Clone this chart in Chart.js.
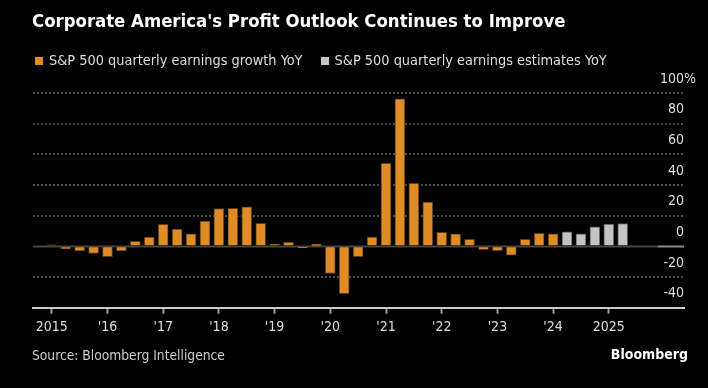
<!DOCTYPE html>
<html lang="en">
<head>
    <meta charset="UTF-8">
    <title>Corporate America's Profit Outlook</title>
    <style>
        body { margin: 0; background: #000; }
        #wrap { position: relative; width: 708px; height: 388px; overflow: hidden; font-family: "Liberation Sans Narrow", "DejaVu Sans Condensed", sans-serif; }
        #wrap canvas { position: absolute; left: 0; top: 0; }
        .title { position: absolute; left: 32px; top: 10px; color: #fff; font-weight: bold; font-size: 18.4px; white-space: nowrap; }
        .legend { position: absolute; left: 35px; top: 52px; color: #ddd; font-size: 14.4px; white-space: nowrap; }
        .legend .box { display: inline-block; width: 8px; height: 8px; margin-right: 6px; }
        .legend .item { margin-right: 14px; }
        .source { position: absolute; left: 32px; top: 347px; color: #ccc; font-size: 13.7px; }
        .brand { position: absolute; right: 20px; top: 346px; color: #fff; font-weight: bold; font-size: 14px; }
    </style>
</head>
<body>
<div id="wrap">
    <canvas id="myChart" width="708" height="388"></canvas>
    <div class="title">Corporate America's Profit Outlook Continues to Improve</div>
    <div class="legend">
        <span class="item"><span class="box" style="background:#e08c26"></span>S&amp;P 500 quarterly earnings growth YoY</span>
        <span class="item"><span class="box" style="background:#c4c4c4"></span>S&amp;P 500 quarterly earnings estimates YoY</span>
    </div>
    <div class="source">Source: Bloomberg Intelligence</div>
    <div class="brand">Bloomberg</div>
</div>

<script src="https://cdn.jsdelivr.net/npm/chart.js@4.4.0/dist/chart.umd.min.js"></script>
<script>

    // quarters 1Q2015 .. 2Q2025
    var quarters = [];
    for (var yr = 2015; yr <= 2025; yr++) {
        for (var q = 1; q <= 4; q++) quarters.push(q + 'Q' + yr);
    }
    quarters = quarters.slice(0, 42);

    // actual growth, 1Q2015 .. 1Q2024
    var growth = [1, -1.7, -3.0, -4.6, -6.7, -3.0, 3.3, 6.1,
        14.4, 11.3, 8.1, 16.5, 24.6, 24.8, 25.7, 15.0,
        1.3, 2.6, -0.9, 1.5, -17.6, -30.9, -6.7, 6.1,
        54.2, 96.2, 41.1, 28.9, 9.1, 8.1, 4.6, -2.2,
        -2.8, -5.7, 4.6, 8.5, 8.1];

    // estimates, 2Q2024 .. 3Q2025
    var estimates = [9.4, 8.1, 12.8, 14.6, 14.8];

    var yearLabels = ['2015', "'16", "'17", "'18", "'19", "'20", "'21", "'22", "'23", "'24", '2025'];
    var yTicks = [-40, -20, 0, 20, 40, 60, 80, 100];

    var growthPoints = growth.map(function (v, i) { return { x: i, y: v }; });
    var estPoints = estimates.map(function (v, i) { return { x: growth.length + i, y: v }; });

    var axisFont = { family: "'Liberation Sans Narrow', 'DejaVu Sans Condensed', sans-serif", size: 14 };

    // solid zero line, lighter past the data
    var zeroLine = {
        id: 'zeroLine',
        beforeDatasetsDraw: function (chart) {
            var ctx = chart.ctx, area = chart.chartArea;
            var y = Math.round(chart.scales.y.getPixelForValue(0)) + 0.5;
            var xSplit = chart.scales.x.getPixelForValue(quarters.length + 1.5);
            ctx.save();
            ctx.lineWidth = 2;
            ctx.strokeStyle = '#444';
            ctx.beginPath(); ctx.moveTo(area.left, y); ctx.lineTo(xSplit, y); ctx.stroke();
            ctx.strokeStyle = '#8a8a8a';
            ctx.beginPath(); ctx.moveTo(xSplit, y); ctx.lineTo(area.right, y); ctx.stroke();
            ctx.restore();
        },
        afterDraw: function (chart) {
            // hanging % sign on the top label
            var ctx = chart.ctx, s = chart.scales.y;
            ctx.save();
            ctx.font = axisFont.size + 'px ' + axisFont.family;
            ctx.fillStyle = '#ddd';
            ctx.textAlign = 'left';
            ctx.textBaseline = 'middle';
            ctx.fillText('%', chart.chartArea.right, s.getPixelForValue(100) - 14);
            ctx.restore();
        }
    };

    var ctx = document.getElementById('myChart').getContext('2d');
    var myChart = new Chart(ctx, {
        type: 'bar',
        data: {
            datasets: [
                {
                    label: 'S&P 500 quarterly earnings growth YoY',
                    data: growthPoints,
                    backgroundColor: '#e08c26',
                    borderColor: '#5e3b0f',
                    borderWidth: 1,
                    barThickness: 10,
                    grouped: false
                },
                {
                    label: 'S&P 500 quarterly earnings estimates YoY',
                    data: estPoints,
                    backgroundColor: '#c4c4c4',
                    borderColor: '#555',
                    borderWidth: 1,
                    barThickness: 10,
                    grouped: false
                }
            ]
        },
        options: {
            responsive: false,
            animation: false,
            layout: { padding: { left: 33, right: 24, top: 93, bottom: 47.5 } },
            plugins: {
                legend: { display: false },
                tooltip: { enabled: false }
            },
            scales: {
                x: {
                    type: 'linear',
                    min: -1.35,
                    max: 45.4,
                    offset: false,
                    afterBuildTicks: function (axis) {
                        axis.ticks = yearLabels.map(function (l, k) { return { value: k * 4 }; });
                    },
                    ticks: {
                        color: '#ddd',
                        font: axisFont,
                        padding: 5,
                        maxRotation: 0,
                        autoSkip: false,
                        callback: function (v, i) { return yearLabels[i]; }
                    },
                    grid: {
                        offset: false,
                        drawOnChartArea: false,
                        drawTicks: true,
                        tickLength: 6,
                        tickWidth: 2,
                        tickColor: '#999'
                    },
                    border: { display: true, color: '#ccc', width: 2 }
                },
                y: {
                    position: 'right',
                    min: -40,
                    max: 100,
                    afterBuildTicks: function (axis) {
                        axis.ticks = yTicks.map(function (v) { return { value: v }; });
                    },
                    ticks: {
                        mirror: true,
                        padding: 0,
                        labelOffset: -14,
                        color: '#ddd',
                        font: axisFont,
                        callback: function (v) { return String(v); }
                    },
                    grid: {
                        drawTicks: false,
                        lineWidth: 2,
                        color: function (c) {
                            var v = c.tick && c.tick.value;
                            return (v === 0 || v === -40) ? 'rgba(0,0,0,0)' : '#4a4a4a';
                        }
                    },
                    border: { display: false, dash: [2, 2] }
                }
            }
        },
        plugins: [zeroLine]
    });

</script>
</body>
</html>
